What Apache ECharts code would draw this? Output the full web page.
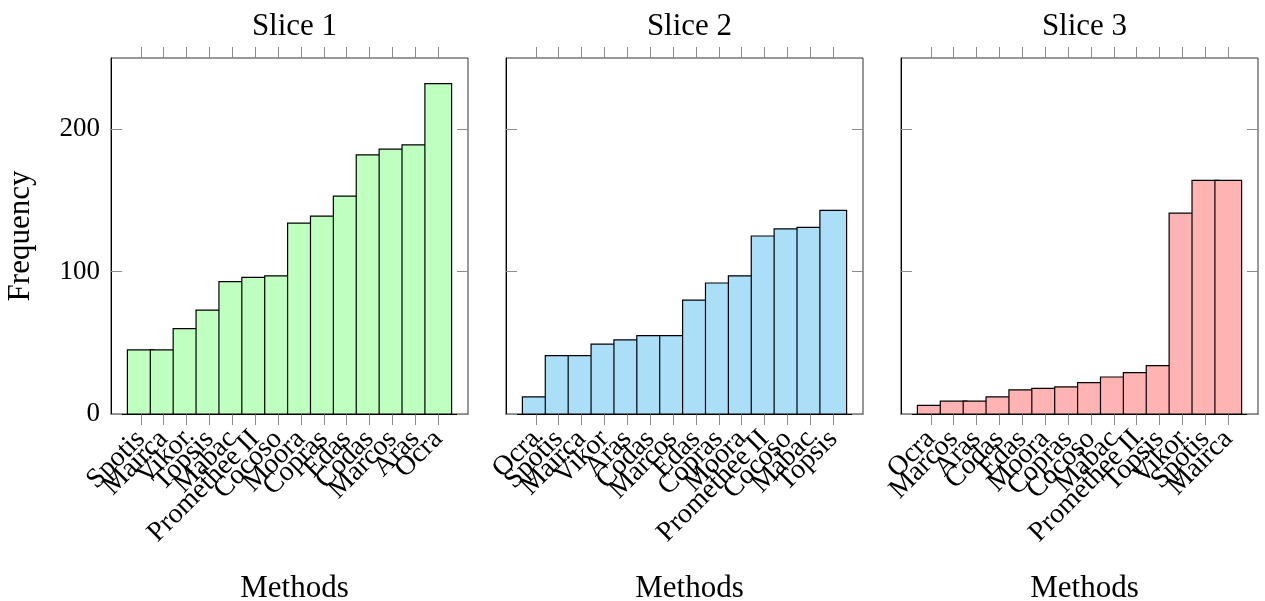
<!DOCTYPE html>
<html>
<head>
<meta charset="utf-8">
<script src="https://cdn.jsdelivr.net/npm/echarts@6/dist/echarts.min.js"></script>
<style>
  html, body { margin: 0; padding: 0; background: #fff; }
  #chart { width: 1265px; height: 601px; }
</style>
</head>
<body>
<div id="chart"></div>
<script>
// Method names per slice, sorted by frequency
const methods1 = ['Spotis', 'Mairca', 'Vikor', 'Topsis', 'Mabac', 'Promethee II', 'Cocoso',
  'Moora', 'Copras', 'Edas', 'Codas', 'Marcos', 'Aras', 'Ocra'];
const freq1 = [45, 45, 60, 73, 93, 96, 97, 134, 139, 153, 182, 186, 189, 232];

const methods2 = ['Ocra', 'Spotis', 'Mairca', 'Vikor', 'Aras', 'Codas', 'Marcos', 'Edas',
  'Copras', 'Moora', 'Promethee II', 'Cocoso', 'Mabac', 'Topsis'];
const freq2 = [12, 41, 41, 49, 52, 55, 55, 80, 92, 97, 125, 130, 131, 143];

const methods3 = ['Ocra', 'Marcos', 'Aras', 'Codas', 'Edas', 'Moora', 'Copras', 'Cocoso',
  'Mabac', 'Promethee II', 'Topsis', 'Vikor', 'Spotis', 'Mairca'];
const freq3 = [6, 9, 9, 12, 17, 18, 19, 22, 26, 29, 34, 141, 164, 164];

const sliceTitles = ['Slice 1', 'Slice 2', 'Slice 3'];
const yTicks = [0, 100, 200];

const FONT = 'Liberation Serif';
const BAR_W = 26.7;   // px, wider than the category step so neighbours overlap
const TICK_LEN = 11;  // px
const panels = [
  { names: methods1, values: freq1, color: '#bfffbf' },
  { names: methods2, values: freq2, color: '#abdff8' },
  { names: methods3, values: freq3, color: '#ffb3b3' }
];
const gridLefts = [111, 506, 901];
const gridW = 357, gridTop = 58, gridH = 356;
const idx = methods1.map((_, i) => i);
// label positions: blank guards at both ends keep the min/max overlap check away from real names
const labelValues = [-1.2].concat(idx, [14.2]);
const tickStyle = { color: '#8c8c8c', width: 1 };

const grids = [], xAxes = [], yAxes = [], series = [], titles = [];
panels.forEach((p, k) => {
  grids.push({
    left: gridLefts[k], top: gridTop, width: gridW, height: gridH,
    show: true, borderColor: '#333', borderWidth: 1, backgroundColor: 'transparent'
  });
  // bottom axis: ticks and rotated method names
  xAxes.push({
    type: 'value', gridIndex: k, min: -1.3, max: 14.3, position: 'bottom',
    splitLine: { show: false },
    axisLine: { show: true, onZero: false, lineStyle: { color: '#000', width: 1 } },
    axisTick: { show: true, inside: false, length: TICK_LEN, customValues: idx, lineStyle: tickStyle },
    axisLabel: { show: true, customValues: labelValues, rotate: 45, margin: 1,
      verticalAlign: 'top', lineHeight: 28, padding: [0, 14, 0, 0],
      fontFamily: FONT, fontSize: 28, color: '#000',
      formatter: v => (Number.isInteger(v) ? p.names[v] : '') }
  });
  // mirrored ticks along the top edge
  xAxes.push({
    type: 'value', gridIndex: k, min: -1.3, max: 14.3, position: 'top',
    splitLine: { show: false },
    axisLine: { show: false, onZero: false },
    axisTick: { show: true, inside: false, length: TICK_LEN, customValues: idx, lineStyle: tickStyle },
    axisLabel: { show: false }
  });
  yAxes.push({
    type: 'value', gridIndex: k, min: 0, max: 250, position: 'left',
    splitLine: { show: false },
    axisLine: { show: true, onZero: false, lineStyle: { color: '#000', width: 1 } },
    axisTick: { show: true, inside: true, length: TICK_LEN, customValues: yTicks, lineStyle: tickStyle },
    axisLabel: { show: k === 0, customValues: yTicks, margin: 11,
      fontFamily: FONT, fontSize: 27, color: '#000' },
    name: k === 0 ? 'Frequency' : '',
    nameLocation: 'middle', nameGap: 75, nameRotate: 90,
    nameTextStyle: { fontFamily: FONT, fontSize: 31, color: '#000' }
  });
  yAxes.push({
    type: 'value', gridIndex: k, min: 0, max: 250, position: 'right',
    splitLine: { show: false },
    axisLine: { show: false, onZero: false },
    axisTick: { show: true, inside: true, length: TICK_LEN, customValues: yTicks, lineStyle: tickStyle },
    axisLabel: { show: false }
  });
  // bars drawn through the axis scales, in data order so later bars overlap earlier ones
  series.push({
    type: 'custom', xAxisIndex: 2 * k, yAxisIndex: 2 * k,
    data: p.values.map((v, i) => [i, v]),
    encode: { x: 0, y: 1 },
    z: 2,
    renderItem: (params, api) => {
      const top = api.coord([api.value(0), api.value(1)]);
      const base = api.coord([api.value(0), 0]);
      return {
        type: 'rect',
        shape: { x: top[0] - BAR_W / 2, y: top[1], width: BAR_W, height: base[1] - top[1] },
        style: { fill: p.color, stroke: '#000', lineWidth: 1.2 }
      };
    }
  });
  const cx = gridLefts[k] + gridW / 2;
  titles.push({
    text: sliceTitles[k], left: cx, top: 6, textAlign: 'center',
    textStyle: { fontFamily: FONT, fontSize: 31, fontWeight: 'normal', color: '#000' }
  });
  titles.push({
    text: 'Methods', left: cx, top: 568, textAlign: 'center',
    textStyle: { fontFamily: FONT, fontSize: 31, fontWeight: 'normal', color: '#000' }
  });
});

const chart = echarts.init(document.getElementById('chart'), null, { renderer: 'canvas' });
chart.setOption({
  animation: false,
  backgroundColor: '#fff',
  title: titles,
  grid: grids,
  xAxis: xAxes,
  yAxis: yAxes,
  series: series
});
</script>
</body>
</html>
